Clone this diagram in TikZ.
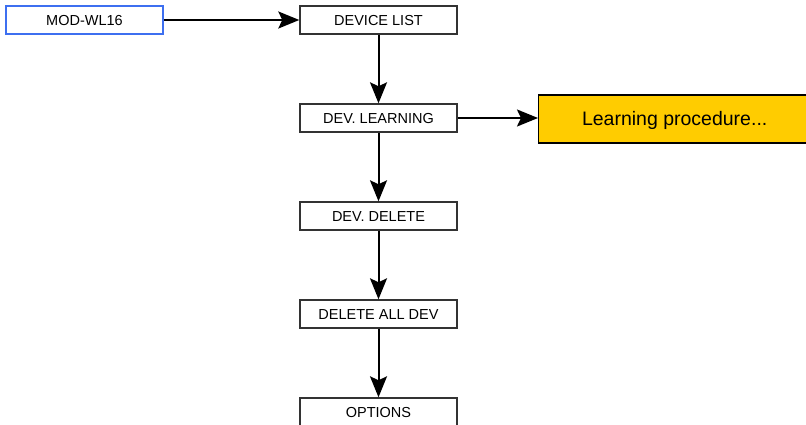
\documentclass[tikz,border=0pt]{standalone}
\usepackage{fontspec}
\setmainfont{Liberation Sans}
\usetikzlibrary{arrows.meta}
\definecolor{boxline}{HTML}{333333}
\definecolor{modblue}{HTML}{3D6FF0}
\definecolor{procfill}{HTML}{FFCC00}
\tikzset{
  menubox/.style={draw=boxline, line width=1.4pt, fill=white, minimum width=157pt, minimum height=28pt,
    inner sep=0pt, text height=10.4pt, text depth=0pt, font=\fontsize{14.5}{16}\selectfont},
  modbox/.style={menubox, draw=modblue},
  procbox/.style={draw=black, line width=1.4pt, fill=procfill, minimum width=272pt, minimum height=48pt,
    inner sep=0pt, text height=14pt, text depth=0pt, anchor=west, font=\fontsize{19.5}{22}\selectfont},
  flow/.style={line width=2pt, -{Stealth[length=21pt 0 0,width=17pt 0 0,inset=4pt]}}
}
\begin{document}
\begin{tikzpicture}[x=1pt,y=-1pt]
  \useasboundingbox (0,0) rectangle (806,425);
  \clip (0,0) rectangle (806,425);
  \node[modbox] (mod) at (84.5,20) {MOD-WL16};
  \node[menubox] (list) at (378.5,20) {DEVICE LIST};
  \node[menubox] (learn) at (378.5,118) {DEV. LEARNING};
  \node[menubox] (del) at (378.5,216) {DEV. DELETE};
  \node[menubox] (delall) at (378.5,314) {DELETE ALL DEV};
  \node[menubox] (opt) at (378.5,412) {OPTIONS};
  \node[procbox] (proc) at (538,119) {Learning procedure...};
  \draw[flow] (mod) -- (list);
  \draw[flow] (list) -- (learn);
  \draw[flow] (learn) -- (del);
  \draw[flow] (del) -- (delall);
  \draw[flow] (delall) -- (opt);
  \draw[flow] (learn.east) -- (proc.west |- learn.east);
\end{tikzpicture}
\end{document}
